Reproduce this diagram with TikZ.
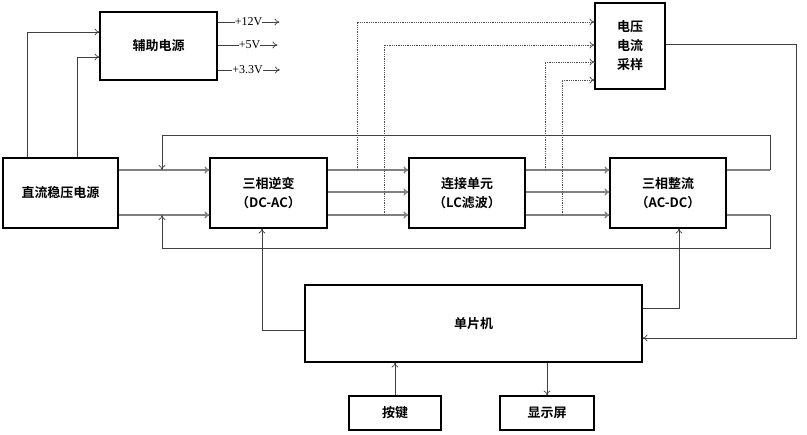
\documentclass[tikz,border=0pt]{standalone}
\usepackage{fontspec}
\usetikzlibrary{arrows.meta}
\setmainfont{Liberation Serif}
\newfontfamily\cjk{Noto Sans CJK SC Bold}
\begin{document}
\begin{tikzpicture}[x=1pt,y=-1pt,
  box/.style={draw,line width=1.1pt,inner sep=0pt,font=\cjk\fontsize{13}{19}\selectfont,align=center},
  pw/.style={draw=gray,line width=1.4pt},
  sig/.style={draw=black!75,line width=0.7pt},
  dots/.style={draw=black!70,densely dotted,line width=0.8pt},
  arr/.style={-{To[length=5pt,width=7pt]}}]
\useasboundingbox (0,0) rectangle (807,435);
\node[box,minimum width=117pt,minimum height=68pt] (aux) at (158.5,46) {辅助电源};
\node[box,minimum width=115pt,minimum height=70pt] (dc) at (60.5,193) {直流稳压电源};
\node[box,minimum width=117pt,minimum height=70pt] (inv) at (268.5,193) {三相逆变\\（DC-AC）};
\node[box,minimum width=116pt,minimum height=70pt] (lc) at (467,193) {连接单元\\（LC滤波）};
\node[box,minimum width=116pt,minimum height=70pt] (rec) at (668,193) {三相整流\\（AC-DC）};
\node[box,minimum width=70pt,minimum height=86pt] (smp) at (630,46) {电压\\电流\\采样};
\node[box,minimum width=337pt,minimum height=77pt] (mcu) at (473.5,323.5) {单片机};
\node[box,minimum width=92pt,minimum height=34pt] (key) at (395,413) {按键};
\node[box,minimum width=94pt,minimum height=34pt] (disp) at (547,413) {显示屏};
% aux supply
\draw[sig,arr] (dc.north -| 27,0) -- (27,32) -- (aux.west |- 0,32);
\draw[sig,arr] (dc.north -| 77,0) -- (77,57) -- (aux.west |- 0,57);
\foreach \y/\t/\a/\b in {22/+12V/232/265,45/+5V/237/262,70/+3.3V/228/267}{
  \node[font=\fontsize{12}{14}\selectfont,inner sep=0pt,anchor=center] (v\y) at ({(\a+\b)/2},\y) {\t};
  \draw[sig] (aux.east |- 0,\y) -- (v\y.west);
  \draw[sig,arr] (v\y.east) -- ++(17,0);
}
% power lines
\foreach \y in {170,215}{
  \draw[pw,arr] (dc.east |- 0,\y) -- (inv.west |- 0,\y);
}
\foreach \y in {170,192,215}{
  \draw[pw,arr] (inv.east |- 0,\y) -- (lc.west |- 0,\y);
  \draw[pw,arr] (lc.east |- 0,\y) -- (rec.west |- 0,\y);
}
\draw[pw] (rec.east |- 0,170) -- (770,170);
\draw[pw] (rec.east |- 0,215) -- (770,215);
\draw[sig,arr] (770,170) -- (770,135) -- (162,135) -- (162,170);
\draw[sig,arr] (770,215) -- (770,248) -- (162,248) -- (162,215);
% dotted sampling
\draw[dots,arr] (357,170) -- (357,22) -- (smp.west |- 0,22);
\draw[dots,arr] (384,215) -- (384,45) -- (smp.west |- 0,45);
\draw[dots,arr] (545,170) -- (545,62) -- (smp.west |- 0,62);
\draw[dots,arr] (562,215) -- (562,80) -- (smp.west |- 0,80);
% sampling to mcu
\draw[sig,arr] (smp.east |- 0,44) -- (796,44) -- (796,338) -- (mcu.east |- 0,338);
% mcu outputs
\draw[sig,arr] (mcu.west |- 0,330) -- (262,330) -- (inv.south -| 262,0);
\draw[sig,arr] (mcu.east |- 0,308) -- (679,308) -- (rec.south -| 679,0);
\draw[sig,arr] (key.north) -- (mcu.south -| key.north);
\draw[sig,arr] (mcu.south -| disp.north) -- (disp.north);
\end{tikzpicture}
\end{document}
